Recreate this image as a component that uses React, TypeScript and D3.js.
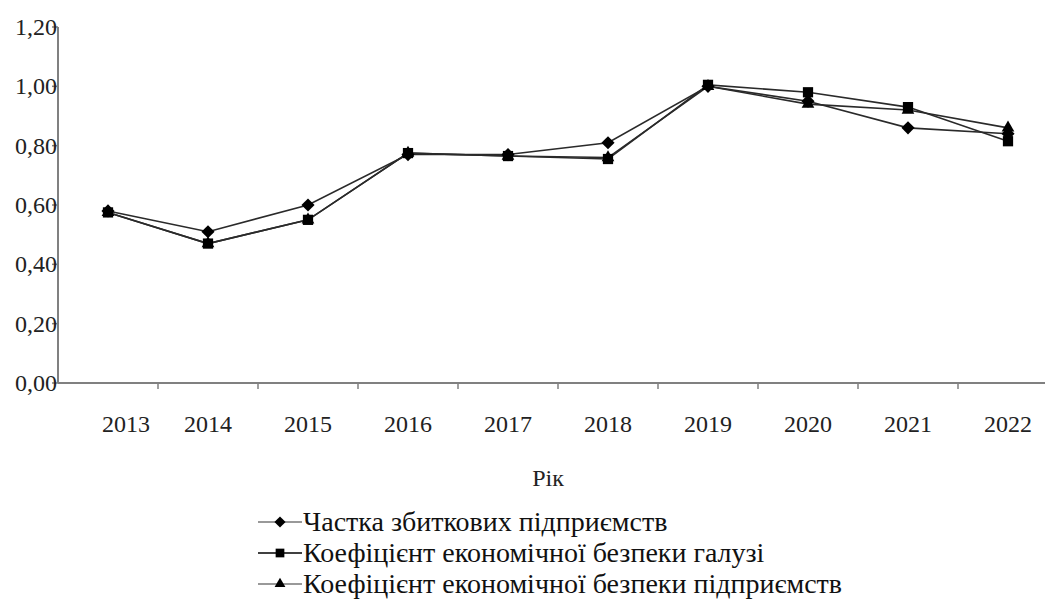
import React from 'react';
import * as d3 from 'd3';

// Data
const years = ['2013', '2014', '2015', '2016', '2017', '2018', '2019', '2020', '2021', '2022'];
const shareLossMaking = [0.58, 0.51, 0.6, 0.77, 0.77, 0.81, 1.0, 0.95, 0.86, 0.84];
const industrySecurity = [0.575, 0.47, 0.55, 0.775, 0.765, 0.755, 1.005, 0.98, 0.93, 0.815];
const enterpriseSecurity = [0.575, 0.47, 0.55, 0.775, 0.765, 0.76, 1.0, 0.94, 0.92, 0.86];
const yTicks = [0, 0.2, 0.4, 0.6, 0.8, 1.0, 1.2];
const seriesNames = [
  'Частка збиткових підприємств',
  'Коефіцієнт економічної безпеки галузі',
  'Коефіцієнт економічної безпеки підприємств',
];

const W = 1049;
const H = 599;
const margin = { top: 27, left: 58, bottom: 383, right: 1058 };
const font = 'Liberation Serif';

const App: React.FC = () => {
  const x = d3.scaleBand<string>().domain(years).range([margin.left, margin.right]);
  const y = d3.scaleLinear().domain([0, 1.2]).range([margin.bottom, margin.top]);
  const cx = (yr: string) => (x(yr) as number) + x.bandwidth() / 2;

  const diamondType = (d3 as any).symbolDiamond2 || d3.symbolDiamond;
  const shapes = [
    d3.symbol().type(diamondType).size(110)(),
    d3.symbol().type(d3.symbolSquare).size(105)(),
    d3.symbol().type(d3.symbolTriangle).size(70)(),
  ];
  const series = [shareLossMaking, industrySecurity, enterpriseSecurity];
  const legendStroke = ['#777', '#000', '#777'];
  // triangles underneath, squares, then diamonds on top
  const drawOrder = [2, 1, 0];

  const line = d3
    .line<number>()
    .x((_, i) => cx(years[i]))
    .y((d) => y(d));

  const fmt = (v: number) => v.toFixed(2).replace('.', ',');

  return (
    <div style={{ position: 'absolute', left: 0, top: 0 }}>
      <svg width={W} height={H} style={{ display: 'block', background: '#fff' }}>
        {/* lines */}
        {series.map((s, k) => (
          <path key={'l' + k} d={line(s) || ''} fill="none" stroke="#2a2a2a" strokeWidth={1.6} />
        ))}
        {/* markers */}
        {drawOrder.map((k) =>
          series[k].map((v, i) => (
            <path
              key={'m' + k + '-' + i}
              d={shapes[k] || ''}
              transform={`translate(${cx(years[i])},${y(v)})`}
              fill="#000"
            />
          ))
        )}

        {/* y axis */}
        <line x1={margin.left} x2={margin.left} y1={y(1.2)} y2={y(0)} stroke="#808080" strokeWidth={2} />
        {yTicks.map((t) => (
          <g key={'yt' + t}>
            <line x1={margin.left - 6} x2={margin.left} y1={y(t)} y2={y(t)} stroke="#808080" strokeWidth={1.5} />
            <text
              x={margin.left - 1}
              y={y(t)}
              dy="0.33em"
              textAnchor="end"
              fontFamily={font}
              fontSize={24}
              fill="#222"
            >
              {fmt(t)}
            </text>
          </g>
        ))}

        {/* x axis */}
        <line x1={margin.left} x2={1045} y1={y(0)} y2={y(0)} stroke="#808080" strokeWidth={2} />
        {years.slice(1).map((yr) => (
          <line
            key={'xt' + yr}
            x1={x(yr) as number}
            x2={x(yr) as number}
            y1={y(0)}
            y2={y(0) + 6}
            stroke="#808080"
            strokeWidth={1.5}
          />
        ))}
        {years.map((yr, i) => (
          <text
            key={'xl' + yr}
            x={cx(yr) + (i === 0 ? 18 : 0)}
            y={432}
            textAnchor="middle"
            fontFamily={font}
            fontSize={24}
            fill="#222"
          >
            {yr}
          </text>
        ))}
        <text x={548} y={486} textAnchor="middle" fontFamily={font} fontSize={24} fill="#222">
          Рік
        </text>

        {/* legend */}
        {seriesNames.map((name, k) => {
          const ly = 522 + k * 31;
          return (
            <g key={'lg' + k}>
              <line x1={258} x2={302} y1={ly} y2={ly} stroke={legendStroke[k]} strokeWidth={1.5} />
              <path d={shapes[k] || ''} transform={`translate(280,${ly}) scale(0.85)`} fill="#000" />
              <text x={303} y={ly + 9} fontFamily={font} fontSize={28} fill="#111">
                {name}
              </text>
            </g>
          );
        })}
      </svg>
    </div>
  );
};

export default App;
